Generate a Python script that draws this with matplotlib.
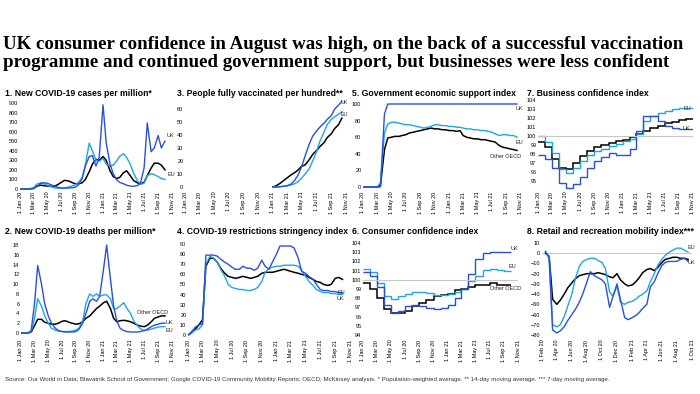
import matplotlib
matplotlib.use('Agg')
import matplotlib.pyplot as plt
import matplotlib.dates as mdates
import pandas as pd

plt.rcParams['font.family'] = ['Liberation Sans', 'DejaVu Sans']

UK_C = '#2A4FE0'
EU_C = '#1DA6E6'
OECD_C = '#000000'

# 1. cases per million (1st / 15th of each month from Jan 2020)
p1_dates = pd.date_range('2020-01-01', periods=43, freq='SMS')
p1_uk = [0, 0, 0, 0, 2, 25, 60, 65, 60, 45, 30, 18, 10, 8, 10, 12, 20, 45, 110, 240,
         340, 350, 240, 330, 880, 480, 260, 160, 100, 70, 55, 40, 30, 28, 35, 60, 220, 690, 390, 430,
         560, 430, 500]
p1_eu = [0, 0, 0, 2, 15, 50, 65, 55, 40, 25, 12, 8, 8, 12, 20, 30, 45, 70, 120, 250,
         480, 400, 300, 290, 320, 260, 240, 250, 290, 340, 370, 330, 260, 170, 90, 50, 60, 140, 160, 150,
         130, 110, 100]
p1_oecd = [0, 0, 0, 2, 10, 30, 40, 35, 30, 30, 30, 45, 70, 90, 85, 70, 55, 55, 65, 100,
           180, 260, 310, 300, 340, 300, 190, 130, 110, 120, 170, 190, 140, 90, 65, 55, 70, 140, 220, 270,
           270, 250, 200]

# 2. deaths per million
p2_dates = pd.date_range('2020-01-01', periods=43, freq='SMS')
p2_uk = [0, 0, 0, 0.5, 6, 13.8, 10, 6, 3.5, 2, 1, 0.5, 0.3, 0.2, 0.2, 0.2, 0.3, 0.8, 2, 4,
         6.5, 7, 6.5, 7.5, 13, 18, 11, 5.5, 2.5, 1, 0.5, 0.3, 0.2, 0.2, 0.2, 0.3, 0.5, 0.8, 1.3, 1.6,
         1.8, 2.0, 2.0]
p2_eu = [0, 0, 0, 0.3, 3, 7, 5.5, 3.5, 2, 1, 0.6, 0.4, 0.3, 0.3, 0.3, 0.4, 0.6, 1, 2.5, 6,
         8, 7.5, 8, 7.5, 7.8, 7.8, 7, 5, 5, 5.5, 6.2, 5, 4, 2.5, 1.5, 0.8, 0.5, 0.6, 0.8, 1,
         1.2, 1.3, 1.3]
p2_oecd = [0, 0, 0, 0.2, 1.5, 2.8, 2.8, 2.2, 2, 1.8, 1.8, 2, 2.4, 2.5, 2.2, 2, 1.8, 1.9, 2.3, 3,
           3.5, 4.2, 5, 5.5, 6.2, 6.5, 5, 3, 2.3, 2.5, 2.6, 2.5, 2.3, 2, 1.6, 1.4, 1.3, 1.6, 2.3, 3,
           3.3, 3.5, 3.5]

# 3. fully vaccinated per hundred
p3_dates = pd.date_range('2021-01-01', periods=20, freq='SMS')
p3_uk = [0, 0, 0.3, 0.6, 1, 2, 5, 9, 16, 24, 33, 39, 43, 46, 49, 52, 55, 60, 63, 66]
p3_eu = [0, 0, 0.2, 0.5, 1, 1.5, 2.5, 4, 7, 10, 14, 20, 27, 35, 42, 48, 52, 54, 56, 58]
p3_oecd = [0, 1, 3, 5, 7, 9, 11, 13, 16, 17, 21, 25, 28, 31, 34, 38, 41, 45, 48, 53]

# 4. stringency index
p4_dates = pd.date_range('2020-01-01', periods=43, freq='SMS')
p4_uk = [0, 3, 8, 10, 11, 79, 79, 79, 78, 75, 72, 70, 67, 65, 65, 68, 66, 66, 64, 66,
         74, 68, 65, 72, 80, 88, 88, 88, 88, 86, 76, 63, 61, 58, 55, 50, 45, 44, 44, 43,
         43, 42, 42]
p4_eu = [0, 2, 5, 6, 10, 70, 78, 76, 72, 65, 58, 50, 47, 46, 45, 45, 44, 44, 45, 47,
         53, 62, 66, 67, 68, 68, 69, 69, 69, 69, 68, 64, 58, 53, 49, 45, 43, 42, 42, 41,
         41, 40, 40]
p4_oecd = [0, 2, 6, 10, 15, 68, 76, 76, 72, 66, 61, 58, 57, 56, 57, 58, 57, 56, 57, 58,
           61, 62, 62, 62, 63, 64, 65, 64, 63, 62, 61, 60, 59, 57, 55, 53, 52, 50, 49, 50,
           56, 57, 55]

# 5. government economic support index
p5_dates = pd.date_range('2020-01-01', periods=44, freq='SMS')
p5_uk = [0, 0, 0, 0, 0, 0, 88, 100, 100, 100, 100, 100, 100, 100, 100, 100, 100, 100, 100, 100,
         100, 100, 100, 100, 100, 100, 100, 100, 100, 100, 100, 100, 100, 100, 100, 100, 100, 100, 100, 100,
         100, 100, 100, 100]
p5_eu = [0, 0, 0, 0, 0, 5, 65, 76, 78, 78, 77, 76, 75, 75, 74, 73, 72, 71, 72, 73,
         75, 75, 74, 74, 73, 73, 72, 72, 71, 70, 70, 69, 69, 68, 68, 67, 66, 64, 62, 63,
         63, 62, 62, 60]
p5_oecd = [0, 0, 0, 0, 0, 2, 45, 59, 60, 61, 61, 62, 63, 65, 66, 67, 68, 69, 70, 71,
           70, 70, 69, 69, 68, 68, 67, 68, 62, 60, 59, 58, 58, 57, 57, 56, 55, 54, 50, 48,
           47, 46, 45, 44]

# 6. consumer confidence (monthly)
p6_uk = [100.8, 100.4, 99.2, 97.3, 96.4, 96.6, 97.1, 97.3, 97.2, 96.95, 96.8, 96.95, 97.3, 98.0,
         99.0, 100.6, 102.3, 102.9, 103.0, 103.0, 103.0]
p6_eu = [101.2, 100.8, 99.7, 98.2, 97.9, 98.2, 98.5, 98.7, 98.7, 98.6, 98.35, 98.4, 98.5, 98.7,
         99.0, 99.9, 100.4, 101.1, 101.2, 101.1, 101.0]
p6_oecd = [99.6, 99.0, 98.0, 96.8, 96.4, 96.4, 96.6, 97.1, 97.5, 97.8, 98.2, 98.35, 98.5, 98.9,
           99.0, 99.2, 99.4, 99.4, 99.6, 99.4, 99.4]

# 7. business confidence (monthly)
p7_uk = [97.9, 97.5, 96.5, 94.8, 94.2, 94.7, 95.5, 96.4, 97.2, 97.7, 98.1, 97.9, 97.9, 98.6,
         100.6, 102.2, 102.2, 101.7, 101.1, 100.9, 100.8, 100.8]
p7_eu = [100.0, 99.3, 98.1, 96.3, 95.9, 96.4, 97.2, 97.9, 98.3, 98.6, 98.85, 99.1, 99.4, 99.7,
         100.2, 101.7, 102.2, 102.6, 102.8, 103.0, 103.1, 103.1]
p7_oecd = [99.3, 98.8, 97.5, 96.5, 96.3, 97.0, 97.8, 98.3, 98.8, 99.0, 99.2, 99.4, 99.6, 99.9,
           100.2, 100.6, 100.9, 101.1, 101.4, 101.6, 101.8, 101.9]

# 8. retail and recreation mobility (from mid Feb 2020)
p8_dates = pd.date_range('2020-02-15', periods=39, freq='SMS')
p8_uk = [2, -5, -75, -78, -76, -72, -66, -60, -55, -48, -40, -28, -18, -22, -24, -26, -30, -53, -42, -30,
         -45, -63, -65, -63, -61, -58, -54, -50, -33, -28, -20, -12, -9, -8, -8, -8, -6, -5, -8]
p8_eu = [1, -3, -70, -72, -70, -62, -52, -40, -25, -13, -8, -6, -5, -5, -7, -9, -15, -38, -42, -32,
         -48, -50, -48, -47, -45, -42, -40, -37, -28, -20, -12, -6, -2, 1, 3, 5, 5, 3, 1]
p8_oecd = [0, -3, -45, -50, -46, -40, -34, -29, -25, -22, -21, -20, -20, -20, -19, -20, -21, -23, -24, -20,
           -26, -30, -32, -31, -28, -24, -19, -16, -15, -17, -14, -9, -6, -5, -4, -4, -5, -5, -6]

W, H = 700, 394
fig = plt.figure(figsize=(7, 3.94), dpi=100)


def make_ax(x0, x1, top, bot, ref, yticks, start, end, months):
    ax = fig.add_axes([x0 / W, 1 - bot / H, (x1 - x0) / W, (bot - top) / H])
    (v0, p0), (v1, p1) = ref
    s = (v1 - v0) / (p0 - p1)
    ax.set_ylim(v0 - (bot - p0) * s, v1 + (p1 - top) * s)
    ax.set_xlim(pd.Timestamp(start), pd.Timestamp(end))
    ax.set_yticks(yticks)
    ax.xaxis.set_major_locator(mdates.MonthLocator(bymonth=months))
    ax.xaxis.set_major_formatter(mdates.DateFormatter('1 %b %y'))
    ax.tick_params(length=0, labelsize=4.0, pad=1.2)
    ax.tick_params(axis='x', rotation=90)
    for sp in ax.spines.values():
        sp.set_visible(False)
    ax.patch.set_alpha(0)
    return ax


def lines(ax, x, uk, eu, oecd):
    ax.plot(x, oecd, color=OECD_C, lw=1.1)
    ax.plot(x, eu, color=EU_C, lw=1.0)
    ax.plot(x, uk, color=UK_C, lw=1.0)


def stairs(ax, vals, color, lw):
    edges = mdates.date2num(pd.date_range('2020-01-01', periods=len(vals) + 1, freq='MS'))
    ax.stairs(vals, edges, baseline=None, color=color, lw=lw)


def lab(x, y, s, ha='left', size=4):
    fig.text(x / W, 1 - y / H, s, ha=ha, va='center', fontsize=size, color='#222222')


odd = [1, 3, 5, 7, 9, 11]
even = [2, 4, 6, 8, 10, 12]

# top row
ax1 = make_ax(20, 172, 98, 190, ((0, 189), (900, 103)), range(0, 901, 100), '2020-01-01', '2021-11-01', odd)
lines(ax1, p1_dates, p1_uk, p1_eu, p1_oecd)

ax3 = make_ax(185, 346, 98, 190, ((0, 187), (60, 109)), range(0, 61, 10), '2020-01-01', '2021-11-01', odd)
lines(ax3, p3_dates, p3_uk, p3_eu, p3_oecd)

ax5 = make_ax(363, 521, 98, 190, ((0, 187), (100, 104)), range(0, 101, 20), '2020-01-01', '2021-11-01', odd)
lines(ax5, p5_dates, p5_uk, p5_eu, p5_oecd)

ax7 = make_ax(538, 693, 98, 190, ((95, 181), (104, 100)), range(95, 105), '2020-01-01', '2021-11-01', odd)
ax7.axhline(100, color='#C8C8C8', lw=0.8)
stairs(ax7, p7_oecd, OECD_C, 1.1)
stairs(ax7, p7_eu, EU_C, 1.0)
stairs(ax7, p7_uk, UK_C, 1.0)

# bottom row
ax2 = make_ax(21, 172, 240, 338, ((0, 333), (18, 245)), range(0, 19, 2), '2020-01-01', '2021-11-01', odd)
lines(ax2, p2_dates, p2_uk, p2_eu, p2_oecd)

ax4 = make_ax(188, 350, 240, 338, ((0, 335), (90, 244)), range(0, 91, 10), '2020-01-01', '2021-11-01', odd)
lines(ax4, p4_dates, p4_uk, p4_eu, p4_oecd)

ax6 = make_ax(363, 518, 240, 338, ((94, 335), (104, 243)), range(94, 105), '2020-01-01', '2021-11-01', odd)
ax6.axhline(100, color='#C8C8C8', lw=0.8)
stairs(ax6, p6_oecd, OECD_C, 1.1)
stairs(ax6, p6_eu, EU_C, 1.0)
stairs(ax6, p6_uk, UK_C, 1.0)

ax8 = make_ax(542, 692, 240, 338, ((-80, 335), (10, 243)), range(-80, 11, 10), '2020-02-01', '2021-10-01', even)
ax8.axhline(0, color='#C8C8C8', lw=0.8)
lines(ax8, p8_dates, p8_uk, p8_eu, p8_oecd)

# titles
fig.text(3 / W, 1 - 36 / H,
         'UK consumer confidence in August was high, on the back of a successful vaccination\n'
         'programme and continued government support, but businesses were less confident',
         ha='left', va='top', fontsize=13.6, fontweight='bold', family='Liberation Serif',
         linespacing=1.05)

panel_titles = [
    (5, 93, '1. New COVID-19 cases per million*'),
    (177, 93, '3. People fully vaccinated per hundred**'),
    (352, 93, '5. Government economic support index'),
    (527, 93, '7. Business confidence index'),
    (5, 231, '2. New COVID-19 deaths per million*'),
    (177, 231, '4. COVID-19 restrictions stringency index'),
    (352, 231, '6. Consumer confidence index'),
    (527, 231, '8. Retail and recreation mobility index***'),
]
for x, y, t in panel_titles:
    fig.text(x / W, 1 - y / H, t, ha='left', va='center', fontsize=6.2, fontweight='bold')

# series labels
lab(167, 136, 'UK')
lab(167, 175, 'EU')
lab(341, 102, 'UK', size=3.8)
lab(341, 115, 'EU', size=3.8)
lab(516, 109, 'UK')
lab(516, 142, 'EU')
lab(521, 156, 'Other OECD', ha='right')
lab(683, 109, 'EU')
lab(683, 128, 'UK')
lab(168, 312, 'Other OECD', ha='right')
lab(166, 323, 'UK')
lab(166, 331, 'EU')
lab(337, 293, 'EU')
lab(337, 298, 'UK')
lab(511, 249, 'UK')
lab(508, 267, 'EU')
lab(521, 288, 'Other OECD', ha='right')
lab(687, 247, 'EU')
lab(688, 263, 'UK')

fig.text(5 / W, 1 - 380 / H,
         'Source: Our World in Data; Blavatnik School of Government; Google COVID-19 Community Mobility Reports; '
         'OECD; McKinsey analysis. * Population-weighted average. ** 14-day moving average. '
         '*** 7-day moving average.',
         ha='left', va='center', fontsize=4.4, color='#333333')

fig.savefig('out.png', dpi=100)
